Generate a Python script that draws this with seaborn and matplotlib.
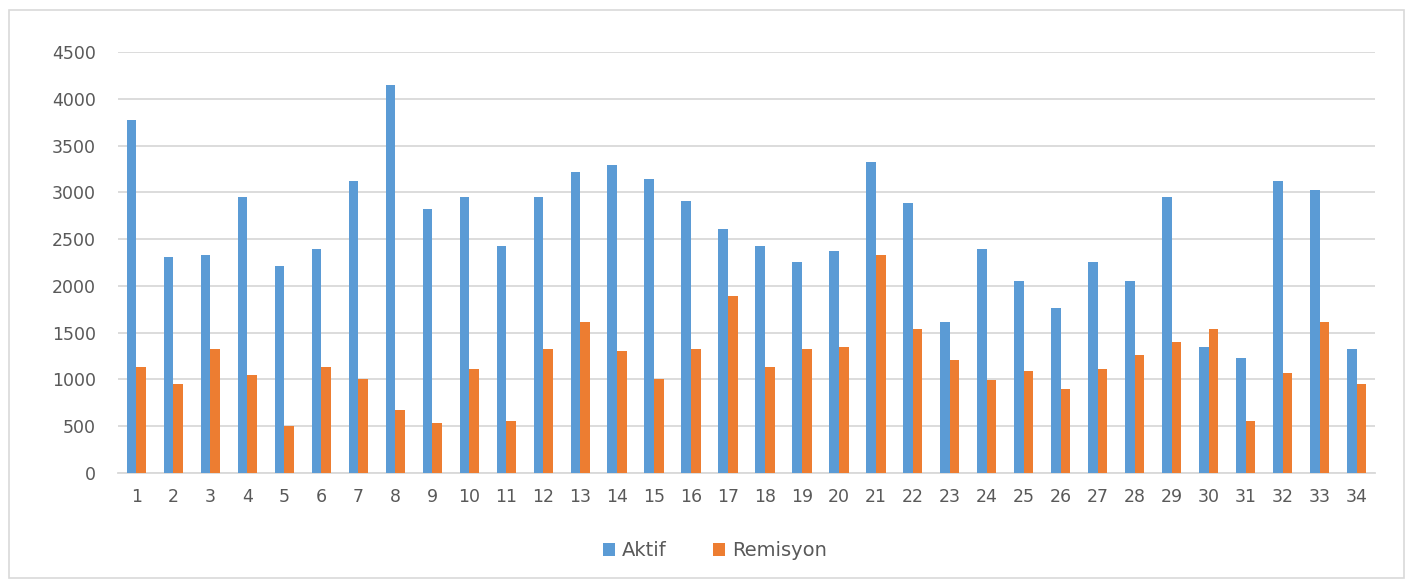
import matplotlib
matplotlib.use("Agg")
import matplotlib.pyplot as plt
from matplotlib.patches import Rectangle
import seaborn as sns
import pandas as pd

categories = [str(i) for i in range(1, 35)]
aktif = [3770, 2312, 2334, 2945, 2212, 2394, 3120, 4151, 2824, 2945,
         2429, 2945, 3219, 3297, 3141, 2903, 2607, 2429, 2255, 2373,
         3319, 2885, 1618, 2390, 2056, 1761, 2255, 2056, 2945, 1348,
         1227, 3120, 3023, 1327]
remisyon = [1128, 953, 1327, 1049, 498, 1128, 1010, 676, 537, 1110,
            558, 1327, 1618, 1305, 1010, 1327, 1896, 1128, 1327, 1348,
            2330, 1540, 1209, 992, 1088, 893, 1110, 1266, 1405, 1544,
            558, 1071, 1618, 953]
series_names = ["Aktif", "Remisyon"]
y_ticks = [0, 500, 1000, 1500, 2000, 2500, 3000, 3500, 4000, 4500]

df = pd.DataFrame({
    "Kategori": categories * 2,
    "Değer": aktif + remisyon,
    "Seri": [series_names[0]] * len(categories) + [series_names[1]] * len(categories),
})

sns.set_theme(style="white")
plt.rcParams["font.family"] = ["DejaVu Sans"]
text_color = "#595959"
grid_color = "#D9D9D9"

fig = plt.figure(figsize=(14.14, 5.83), dpi=100)
ax = fig.add_axes([118 / 1414, 1 - 473 / 583, (1375 - 118) / 1414, (473 - 52) / 583])

sns.barplot(data=df, x="Kategori", y="Değer", hue="Seri",
            palette=["#5B9BD5", "#ED7D31"], width=0.52, dodge=True,
            saturation=1, linewidth=0, ax=ax, zorder=3)

ax.set_ylim(0, 4500)
ax.set_yticks(y_ticks)
ax.set_xlim(-0.5, len(categories) - 0.5)
ax.yaxis.grid(True, color=grid_color, linewidth=1.3, zorder=0)
ax.set_axisbelow(True)
for side in ["left", "right", "top"]:
    ax.spines[side].set_visible(False)
ax.spines["bottom"].set_color(grid_color)
ax.spines["bottom"].set_linewidth(1.3)
ax.tick_params(axis="both", length=0, labelsize=12.5, colors=text_color)
ax.tick_params(axis="y", pad=16)
ax.tick_params(axis="x", pad=11)
ax.set_xlabel("")
ax.set_ylabel("")

handles, labels = ax.get_legend_handles_labels()
ax.legend(handles, labels, loc="center", bbox_to_anchor=(0.475, -0.185),
          ncol=2, frameon=False, fontsize=14, handlelength=0.6,
          handleheight=0.6, handletextpad=0.35, columnspacing=2.4,
          labelcolor=text_color)

fig.patches.append(Rectangle((9 / 1414, 1 - 578 / 583), (1404 - 9) / 1414,
                             (578 - 10) / 583, transform=fig.transFigure,
                             fill=False, edgecolor=grid_color, linewidth=1.2))

fig.savefig("out.png", dpi=100, facecolor="white")
